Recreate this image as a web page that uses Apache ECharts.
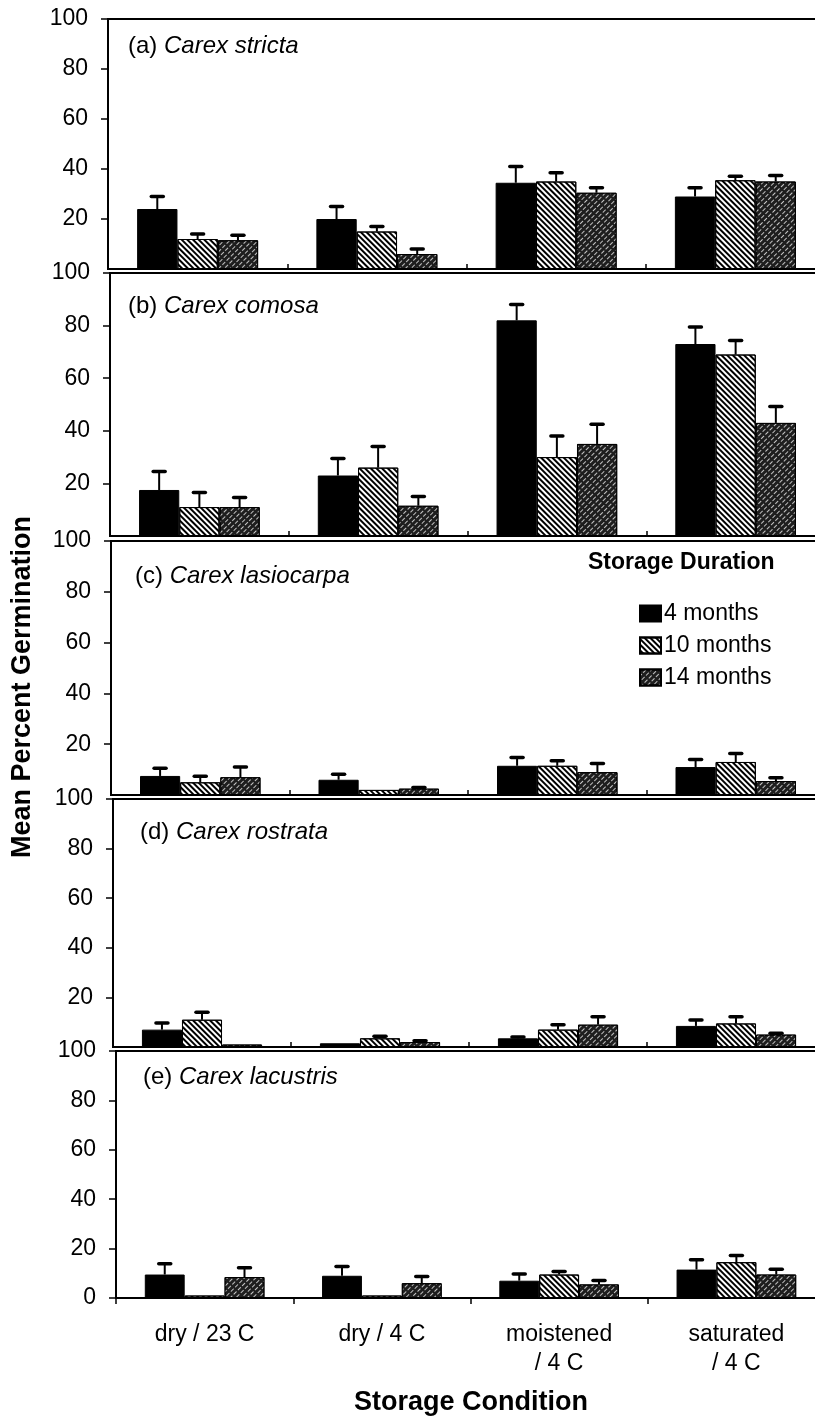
<!DOCTYPE html>
<html><head><meta charset="utf-8">
<script src="https://cdn.jsdelivr.net/npm/echarts@6/dist/echarts.min.js"></script>
<style>html,body{margin:0;padding:0;background:#fff}#c{width:815px;height:1420px}</style>
</head><body><div id="c"></div><script>
// ---------- data ----------
const categories = ['dry / 23 C', 'dry / 4 C', 'moistened\n/ 4 C', 'saturated\n/ 4 C'];
const durations = ['4 months', '10 months', '14 months'];
const panelLetters = ['(a)', '(b)', '(c)', '(d)', '(e)'];
const species = ['Carex stricta', 'Carex comosa', 'Carex lasiocarpa', 'Carex rostrata', 'Carex lacustris'];
const yMin = 0, yMax = 100, yStep = 20;

// rows: 4 months, 10 months, 14 months ; columns follow categories
const strictaMeans     = [[24, 20, 34.5, 29], [12, 15, 35, 35.5], [11.5, 6, 30.5, 35]];
const strictaErrors    = [[5, 5, 6.5, 3.5],   [2, 2, 3.5, 1.6],   [2, 2, 2, 2.4]];
const comosaMeans      = [[17.5, 23, 82, 73], [11, 26, 30, 69],   [11, 11.5, 35, 43]];
const comosaErrors     = [[7, 6.5, 6, 6.5],   [5.5, 8, 8, 5.3],   [3.6, 3.5, 7.5, 6.2]];
const lasiocarpaMeans  = [[7.5, 6, 11.5, 11], [5, 2, 11.5, 13],   [7, 2.5, 9, 5.5]];
const lasiocarpaErrors = [[3, 2.2, 3.3, 3],   [2.4, 0, 2, 3.3],   [4, 0.5, 3.4, 1.3]];
const rostrataMeans    = [[7, 1.5, 3.5, 8.5], [11, 3.5, 7, 9.5],  [1, 2, 9, 5]];
const rostrataErrors   = [[2.7, 0, 0.5, 2.4], [3, 0.8, 2, 2.7],   [0, 0.5, 3.2, 0.5]];
const lacustrisMeans   = [[9.5, 9, 7, 11.5],  [1, 1, 9.5, 14.5],  [8.5, 6, 5.5, 9.5]];
const lacustrisErrors  = [[4.4, 3.8, 2.7, 4], [0, 0, 1.2, 2.7],   [3.7, 2.7, 1.6, 2.1]];

const panelMeans  = [strictaMeans, comosaMeans, lasiocarpaMeans, rostrataMeans, lacustrisMeans];
const panelErrors = [strictaErrors, comosaErrors, lasiocarpaErrors, rostrataErrors, lacustrisErrors];

// ---------- layout / style ----------
const FONT = '"Liberation Sans", Arial, Helvetica, sans-serif';
const BAR_FRAC = 0.225;
const gridBoxes = [
  {left: 108, top: 19,   width: 717, height: 250},
  {left: 110, top: 273,  width: 715, height: 263},
  {left: 111, top: 541,  width: 714, height: 254},
  {left: 113, top: 799,  width: 712, height: 248},
  {left: 116, top: 1051, width: 709, height: 247}
];
const labelPos = [[128, 34], [128, 294], [135, 564], [140, 820], [143, 1065]];

const barStyles = [
  {color: '#000', borderColor: '#000', borderWidth: 1},
  {color: '#fff', borderColor: '#000', borderWidth: 1,
   decal: {symbol: 'rect', symbolSize: 1, dashArrayX: [1, 0], dashArrayY: [1.6, 1.6], rotation: Math.PI / 4, color: '#000'}},
  {color: '#1e1e1e', borderColor: '#000', borderWidth: 1,
   decal: {symbol: 'rect', symbolSize: 1, dashArrayX: [4, 2], dashArrayY: [1, 3], rotation: -Math.PI / 4, color: 'rgba(225,225,225,0.85)'}}
];

function errRender(params, api) {
  const cat = api.value(0), val = api.value(1), err = api.value(2), k = api.value(3);
  if (!(err > 0)) return null;
  const band = api.size([1, 0])[0];
  const base = api.coord([cat, val]);
  const top = api.coord([cat, val + err]);
  const x = base[0] + (k - 1) * band * BAR_FRAC;
  return {type: 'group', children: [
    {type: 'line', shape: {x1: x, y1: base[1], x2: x, y2: top[1]}, style: {stroke: '#000', lineWidth: 2}},
    {type: 'line', shape: {x1: x - 6, y1: top[1], x2: x + 6, y2: top[1]}, style: {stroke: '#000', lineWidth: 3.5, lineCap: 'round'}}
  ]};
}

const grids = [], xAxes = [], yAxes = [], series = [], titles = [];
gridBoxes.forEach((g, p) => {
  const last = p === gridBoxes.length - 1;
  grids.push(Object.assign({show: true, borderColor: '#000', borderWidth: 2, backgroundColor: 'transparent',
    containLabel: false, outerBoundsMode: 'none'}, g));
  xAxes.push({
    type: 'category', gridIndex: p, data: categories, boundaryGap: true,
    axisLine: {show: true, lineStyle: {color: '#000', width: 2}},
    axisTick: {show: true, inside: !last, length: last ? 6 : 5, lineStyle: {color: '#000', width: 1.5}},
    axisLabel: {show: last, interval: 0, fontFamily: FONT, fontSize: 23, color: '#000', lineHeight: 29, margin: 22},
    splitLine: {show: false}
  });
  yAxes.push({
    type: 'value', gridIndex: p, min: yMin, max: yMax, interval: yStep,
    axisLine: {show: true, lineStyle: {color: '#000', width: 2}},
    axisTick: {show: true, inside: false, length: 7, lineStyle: {color: '#000', width: 1.5}},
    axisLabel: {fontFamily: FONT, fontSize: 23, color: '#000', margin: 20, showMinLabel: last},
    splitLine: {show: false}
  });
  durations.forEach((d, k) => {
    series.push({
      type: 'bar', name: d, xAxisIndex: p, yAxisIndex: p,
      data: panelMeans[p][k], barWidth: (BAR_FRAC * 100) + '%', barGap: '0%',
      itemStyle: barStyles[k], silent: true, z: 2
    });
  });
  const rows = [];
  durations.forEach((d, k) => {
    categories.forEach((c, j) => rows.push([j, panelMeans[p][k][j], panelErrors[p][k][j], k]));
  });
  series.push({
    type: 'custom', name: 'err' + p, xAxisIndex: p, yAxisIndex: p,
    data: rows, encode: {x: 0, y: 1}, renderItem: errRender, silent: true, z: 5
  });
  titles.push({
    text: '{n|' + panelLetters[p] + ' }{i|' + species[p] + '}',
    left: labelPos[p][0], top: labelPos[p][1], padding: 0,
    textStyle: {fontWeight: 'normal', rich: {
      n: {fontFamily: FONT, fontSize: 24, color: '#000', fontWeight: 'normal'},
      i: {fontFamily: FONT, fontSize: 24, color: '#000', fontWeight: 'normal', fontStyle: 'italic'}
    }}
  });
});
titles.push({
  text: 'Storage Duration', left: 588, top: 551, padding: 0,
  textStyle: {fontFamily: FONT, fontSize: 23, fontWeight: 'bold', color: '#000'}
});

const chart = echarts.init(document.getElementById('c'), null, {renderer: 'canvas'});
chart.setOption({
  backgroundColor: '#fff',
  animation: false,
  title: titles,
  grid: grids,
  xAxis: xAxes,
  yAxis: yAxes,
  series: series,
  legend: {
    data: durations, orient: 'vertical', left: 639, top: 602,
    itemWidth: 21, itemHeight: 16, itemGap: 9, icon: 'rect', selectedMode: false, padding: 0,
    textStyle: {fontFamily: FONT, fontSize: 23, color: '#000', padding: [0, 0, 0, -2]}
  },
  graphic: [
    {type: 'text', x: 23, y: 687, rotation: Math.PI / 2,
     style: {text: 'Mean Percent Germination', font: 'bold 27px ' + FONT, fill: '#000', align: 'center', verticalAlign: 'middle'}},
    {type: 'text', x: 471, y: 1403,
     style: {text: 'Storage Condition', font: 'bold 27px ' + FONT, fill: '#000', align: 'center', verticalAlign: 'middle'}}
  ]
});
</script></body></html>
